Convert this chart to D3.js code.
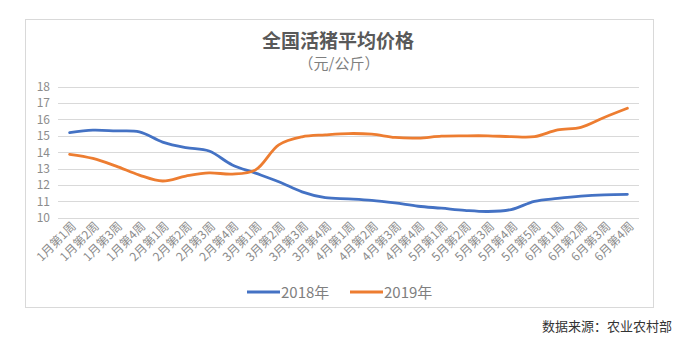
<!DOCTYPE html>
<html>
<head>
<meta charset="utf-8">
<script src="https://cdn.jsdelivr.net/npm/d3@7"></script>
<style>
  body { margin: 0; background: #fff; }
  text { font-family: "Noto Sans CJK SC", "Noto Sans", sans-serif; }
</style>
</head>
<body>
<svg id="chart" width="680" height="340"></svg>
<script>
// weekly labels, Jan–Jun
const weeks = [
  "1月第1周", "1月第2周", "1月第3周", "1月第4周",
  "2月第1周", "2月第2周", "2月第3周", "2月第4周",
  "3月第1周", "3月第2周", "3月第3周", "3月第4周",
  "4月第1周", "4月第2周", "4月第3周", "4月第4周",
  "5月第1周", "5月第2周", "5月第3周", "5月第4周", "5月第5周",
  "6月第1周", "6月第2周", "6月第3周", "6月第4周"
];
const price2018 = [15.2, 15.35, 15.3, 15.24, 14.62, 14.28, 14.07, 13.22, 12.72, 12.2, 11.58, 11.22,
  11.15, 11.06, 10.9, 10.7, 10.58, 10.45, 10.38, 10.5, 11.0, 11.18, 11.32, 11.4, 11.43];
const price2019 = [13.87, 13.62, 13.15, 12.6, 12.24, 12.54, 12.74, 12.66, 12.92, 14.45, 14.94, 15.06,
  15.14, 15.1, 14.9, 14.86, 14.98, 15.0, 15.0, 14.95, 14.95, 15.36, 15.52, 16.12, 16.68];
const seriesNames = ["2018年", "2019年"];
const yTicks = [10, 11, 12, 13, 14, 15, 16, 17, 18];

const svg = d3.select("#chart");
const colors = ["#4472c4", "#ed7d31"];

// outer chart frame
svg.append("rect")
  .attr("x", 25.5).attr("y", 19.5)
  .attr("width", 628).attr("height", 288)
  .attr("fill", "none").attr("stroke", "#d9d9d9");

svg.append("text")
  .attr("x", 338).attr("y", 48)
  .attr("text-anchor", "middle")
  .attr("font-size", 19).attr("font-weight", "bold")
  .attr("fill", "#595959")
  .text("全国活猪平均价格");

svg.append("text")
  .attr("x", 339).attr("y", 69)
  .attr("text-anchor", "middle")
  .attr("font-size", 15)
  .attr("fill", "#7f7f7f")
  .text("（元/公斤）");

const x = d3.scaleBand().domain(weeks).range([58, 639]);
const y = d3.scaleLinear().domain([10, 18]).range([217.7, 86.7]);

// gridlines
svg.append("g")
  .selectAll("line")
  .data(yTicks)
  .join("line")
  .attr("x1", 58).attr("x2", 639)
  .attr("y1", d => Math.round(y(d)) + 0.5)
  .attr("y2", d => Math.round(y(d)) + 0.5)
  .attr("stroke", "#d9d9d9");

// y axis labels
const yAxis = svg.append("g")
  .attr("transform", "translate(50,0)")
  .call(d3.axisLeft(y).tickValues(yTicks).tickSize(0).tickPadding(0));
yAxis.select(".domain").remove();
yAxis.selectAll("text")
  .attr("font-size", 12)
  .attr("fill", "#8c8c8c")
  .attr("font-family", "'Noto Sans', sans-serif");

// x axis labels, rotated
const xAxis = svg.append("g")
  .attr("transform", "translate(0,218)")
  .call(d3.axisBottom(x).tickSize(0).tickPadding(0));
xAxis.select(".domain").remove();
xAxis.selectAll("text")
  .attr("font-size", 12)
  .attr("fill", "#8c8c8c")
  .attr("text-anchor", "end")
  .attr("dy", 0)
  .attr("transform", "translate(7,9) rotate(-45)");

// price lines
const line = d3.line()
  .x((d, i) => x(weeks[i]) + x.bandwidth() / 2)
  .y(d => y(d))
  .curve(d3.curveCatmullRom.alpha(0.5));

[price2018, price2019].forEach((vals, k) => {
  svg.append("path")
    .datum(vals)
    .attr("d", line)
    .attr("fill", "none")
    .attr("stroke", colors[k])
    .attr("stroke-width", 2.8)
    .attr("stroke-linecap", "round")
    .attr("stroke-linejoin", "round");
});

// legend
const legendX = [247, 350];
seriesNames.forEach((name, k) => {
  const g = svg.append("g").attr("transform", `translate(${legendX[k]},292)`);
  g.append("line")
    .attr("x1", 0).attr("x2", 33)
    .attr("stroke", colors[k]).attr("stroke-width", 2.8);
  g.append("text")
    .attr("x", 34).attr("y", 5.5)
    .attr("font-size", 15)
    .attr("fill", "#7f7f7f")
    .text(name);
});

svg.append("text")
  .attr("x", 672).attr("y", 331)
  .attr("text-anchor", "end")
  .attr("font-size", 13)
  .attr("fill", "#333")
  .text("数据来源：农业农村部");
</script>
</body>
</html>
